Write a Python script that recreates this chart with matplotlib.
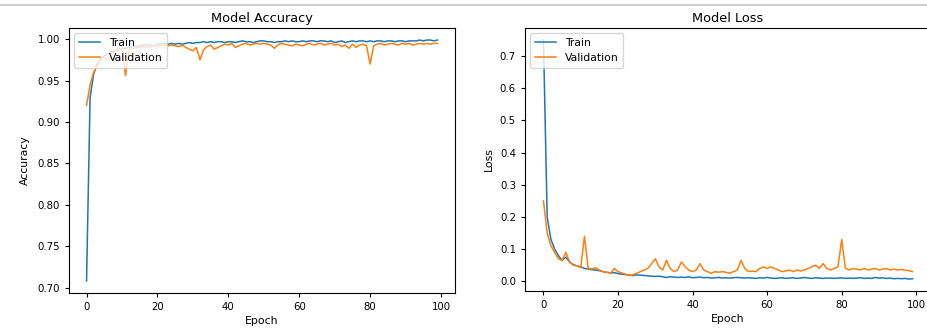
import matplotlib
matplotlib.use("Agg")
import matplotlib.pyplot as plt
import numpy as np

epochs = list(range(100))

train_acc = [0.708, 0.930, 0.958, 0.970, 0.977, 0.980, 0.982, 0.985, 0.986, 0.988,
             0.988, 0.989, 0.990, 0.991, 0.991, 0.992, 0.993, 0.993, 0.993, 0.992,
             0.994, 0.994, 0.995, 0.994, 0.995, 0.994, 0.995, 0.994, 0.995, 0.996,
             0.995, 0.996, 0.996, 0.997, 0.996, 0.997, 0.996, 0.997, 0.997, 0.996,
             0.997, 0.997, 0.996, 0.997, 0.998, 0.997, 0.997, 0.996, 0.997, 0.998,
             0.998, 0.997, 0.997, 0.996, 0.997, 0.997, 0.998, 0.997, 0.998, 0.997,
             0.997, 0.998, 0.997, 0.998, 0.998, 0.997, 0.998, 0.998, 0.997, 0.998,
             0.996, 0.997, 0.998, 0.996, 0.997, 0.998, 0.997, 0.998, 0.998, 0.997,
             0.998, 0.997, 0.998, 0.998, 0.997, 0.998, 0.998, 0.997, 0.998, 0.998,
             0.997, 0.998, 0.998, 0.998, 0.999, 0.998, 0.999, 0.999, 0.998, 0.999]

val_acc = [0.920, 0.945, 0.960, 0.968, 0.975, 0.978, 0.975, 0.983, 0.985, 0.987,
           0.988, 0.956, 0.988, 0.989, 0.990, 0.990, 0.991, 0.990, 0.991, 0.992,
           0.991, 0.992, 0.993, 0.992, 0.993, 0.992, 0.991, 0.993, 0.990, 0.988,
           0.986, 0.990, 0.975, 0.987, 0.991, 0.993, 0.988, 0.990, 0.992, 0.994,
           0.993, 0.995, 0.990, 0.992, 0.994, 0.995, 0.993, 0.994, 0.995, 0.994,
           0.995, 0.994, 0.993, 0.989, 0.993, 0.995, 0.994, 0.993, 0.992, 0.994,
           0.993, 0.992, 0.994, 0.995, 0.993, 0.994, 0.995, 0.993, 0.994, 0.995,
           0.993, 0.994, 0.991, 0.993, 0.989, 0.994, 0.990, 0.993, 0.994, 0.992,
           0.970, 0.992, 0.994, 0.995, 0.993, 0.994, 0.995, 0.994, 0.993, 0.995,
           0.994, 0.995, 0.993, 0.994, 0.995, 0.994, 0.995, 0.994, 0.995, 0.995]

train_loss = [0.750, 0.200, 0.130, 0.100, 0.080, 0.065, 0.075, 0.060, 0.052, 0.048,
              0.045, 0.040, 0.038, 0.036, 0.035, 0.033, 0.030, 0.028, 0.026, 0.027,
              0.024, 0.022, 0.021, 0.019, 0.018, 0.020, 0.019, 0.018, 0.017, 0.016,
              0.015, 0.016, 0.014, 0.012, 0.014, 0.013, 0.012, 0.013, 0.012, 0.014,
              0.011, 0.012, 0.013, 0.011, 0.012, 0.010, 0.011, 0.012, 0.010, 0.011,
              0.010, 0.011, 0.012, 0.011, 0.010, 0.011, 0.010, 0.009, 0.011, 0.010,
              0.012, 0.010, 0.009, 0.010, 0.011, 0.009, 0.010, 0.011, 0.009, 0.010,
              0.012, 0.010, 0.009, 0.011, 0.010, 0.009, 0.010, 0.010, 0.009, 0.010,
              0.011, 0.009, 0.010, 0.009, 0.010, 0.011, 0.009, 0.010, 0.009, 0.012,
              0.010, 0.011, 0.009, 0.010, 0.008, 0.009, 0.008, 0.009, 0.007, 0.008]

val_loss = [0.250, 0.150, 0.110, 0.090, 0.070, 0.065, 0.090, 0.060, 0.050, 0.048,
            0.042, 0.140, 0.040, 0.038, 0.042, 0.035, 0.030, 0.028, 0.025, 0.040,
            0.030, 0.026, 0.022, 0.018, 0.020, 0.025, 0.030, 0.035, 0.040, 0.055,
            0.070, 0.045, 0.035, 0.065, 0.040, 0.030, 0.035, 0.060, 0.045, 0.035,
            0.030, 0.035, 0.055, 0.035, 0.030, 0.025, 0.030, 0.028, 0.030, 0.028,
            0.025, 0.030, 0.035, 0.065, 0.040, 0.030, 0.032, 0.030, 0.040, 0.045,
            0.040, 0.045, 0.040, 0.035, 0.030, 0.032, 0.035, 0.030, 0.035, 0.032,
            0.035, 0.040, 0.045, 0.050, 0.040, 0.055, 0.040, 0.035, 0.040, 0.045,
            0.130, 0.040, 0.035, 0.040, 0.038, 0.035, 0.040, 0.035, 0.038, 0.040,
            0.035, 0.038, 0.040, 0.035, 0.038, 0.035, 0.037, 0.035, 0.033, 0.030]

plt.rcParams['font.family'] = ['DejaVu Sans']
fig = plt.figure(figsize=(9.28, 3.33), dpi=100)
W, H = 928, 333

ax1 = fig.add_axes([69 / W, 1 - 293 / H, (455 - 69) / W, (293 - 28) / H])
ax2 = fig.add_axes([525 / W, 1 - 291 / H, (931 - 525) / W, (291 - 28) / H])

ax1.plot(epochs, train_acc, color='#1f77b4', lw=1.1, label='Train')
ax1.plot(epochs, val_acc, color='#ff7f0e', lw=1.1, label='Validation')
ax1.set_title('Model Accuracy', fontsize=9.3, pad=4)
ax1.set_xlabel('Epoch', fontsize=7.8, labelpad=2.5)
ax1.set_ylabel('Accuracy', fontsize=7.8, labelpad=5)
ax1.legend(loc='upper left', fontsize=7.8)

ax2.plot(epochs, train_loss, color='#1f77b4', lw=1.1, label='Train')
ax2.plot(epochs, val_loss, color='#ff7f0e', lw=1.1, label='Validation')
ax2.set_title('Model Loss', fontsize=9.3, pad=4)
ax2.set_xlabel('Epoch', fontsize=7.8, labelpad=2.5)
ax2.set_ylabel('Loss', fontsize=7.8, labelpad=4.5)
ax2.legend(loc='upper left', fontsize=7.8)

for ax in (ax1, ax2):
    ax.tick_params(labelsize=7.3, length=3, pad=3.5)
    ax.set_xticks([0, 20, 40, 60, 80, 100])

fig.add_artist(plt.Line2D([0, 1], [1 - 5 / H, 1 - 5 / H], color='#d0d0d0', lw=1.5))

fig.savefig('out.png', dpi=100)
